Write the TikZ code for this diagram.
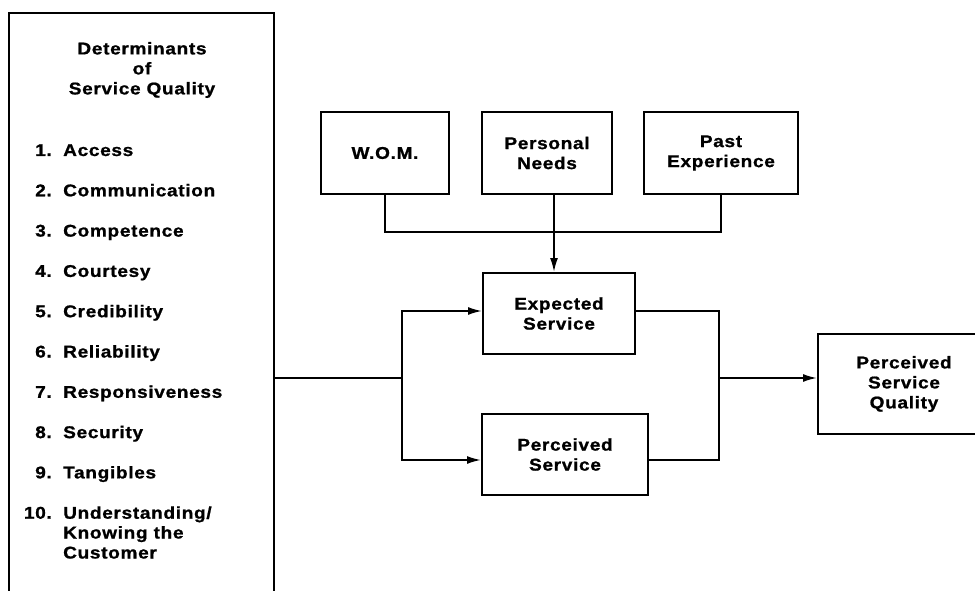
\documentclass[tikz,border=0pt]{standalone}
\usepackage{fontspec}
\newfontfamily\dqfam{Liberation Sans Bold}[LetterSpace=4,FakeStretch=1.12,FakeBold=1]
\usetikzlibrary{arrows.meta}
\newcommand\dqfont{\dqfam\fontsize{17}{20}\selectfont}
\begin{document}
\begin{tikzpicture}[x=1pt,y=-1pt,
  box/.style={draw, line width=2pt, inner sep=0pt, align=center, font=\dqfont},
  txt/.style={inner sep=0pt, font=\dqfont},
  conn/.style={line width=1.8pt},
  arr/.style={conn, -{Latex[length=14pt,width=8pt]}}]
\clip (0,0) rectangle (975,591);
\fill[white] (0,0) rectangle (975,591);

% left determinants box
\node[box, minimum width=265pt, minimum height=600pt] (det) at (141.5,313) {};
\node[txt, align=center] (title) at (142,70) {Determinants\\of\\Service Quality};
\foreach \n/\t [count=\i from 0] in {1/Access,2/Communication,3/Competence,4/Courtesy,5/Credibility,6/Reliability,7/Responsiveness,8/Security,9/Tangibles,10/{Understanding/}}{
  \node[txt, anchor=base east] (num\n) at (52,156+40.3*\i) {\n.};
  \node[txt, anchor=base west] (item\n) at (63,156+40.3*\i) {\t};
}
\node[txt, anchor=base west] (item10b) at (63,538.5) {Knowing the};
\node[txt, anchor=base west] (item10c) at (63,558.5) {Customer};

% antecedent boxes
\node[box, minimum width=128pt, minimum height=82pt] (wom) at (385,153) {W.O.M.};
\node[box, minimum width=130pt, minimum height=82pt] (pn) at (547,153) {Personal\\Needs};
\node[box, minimum width=154pt, minimum height=82pt] (past) at (721,153) {Past\\Experience};

% service boxes
\node[box, minimum width=152pt, minimum height=81pt] (es) at (559,313.5) {Expected\\Service};
\node[box, minimum width=166pt, minimum height=81pt] (ps) at (565,454.5) {Perceived\\Service};
\node[box, minimum width=172pt, minimum height=100pt] (psq) at (904,384) {Perceived\\Service\\Quality};

% top connectors
\draw[conn] (wom.south) -- ++(0,37) -| (past.south);
\draw[arr] ([xshift=7pt]pn.south) -- ([xshift=7pt]pn.south |- es.north);

% split
\coordinate (split) at (402,378);
\coordinate (sTop) at (402,311);
\coordinate (sBot) at (402,460);
\draw[conn] (det.east |- split) -- (split);
\draw[arr] (split) -- (sTop) -- (sTop -| es.west);
\draw[arr] (split) -- (sBot) -- (sBot -| ps.west);

% join
\coordinate (jTop) at (719,311);
\coordinate (jBot) at (719,460);
\coordinate (join) at (719,378);
\draw[conn] (es.east |- jTop) -- (jTop) -- (jBot) -- (jBot -| ps.east);
\draw[arr] (join) -- (join -| psq.west);
\end{tikzpicture}
\end{document}
